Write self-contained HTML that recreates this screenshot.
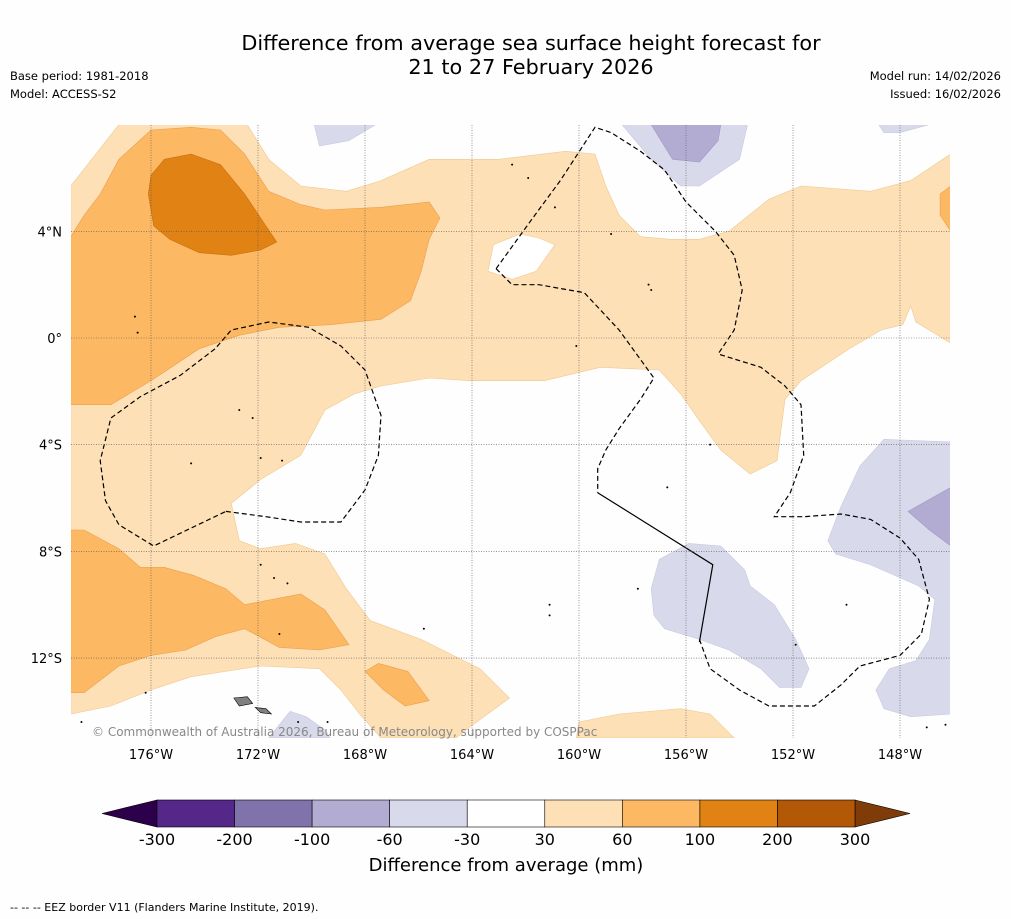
<!DOCTYPE html>
<html><head><meta charset="utf-8"><style>
html,body{margin:0;padding:0;background:#fefefe;}
svg{display:block;font-family:"DejaVu Sans","Liberation Sans",sans-serif;}
</style></head><body>
<svg id="chart" width="1011" height="919" viewBox="0 0 1011 919" xmlns="http://www.w3.org/2000/svg">
<rect width="1011" height="919" fill="#fefefe"/>
<text x="531" y="50" font-size="20.8" text-anchor="middle" fill="#000">Difference from average sea surface height forecast for</text>
<text x="531" y="74" font-size="20.8" text-anchor="middle" fill="#000">21 to 27 February 2026</text>
<text x="10" y="80" font-size="11.5">Base period: 1981-2018</text>
<text x="10" y="98" font-size="11.5">Model: ACCESS-S2</text>
<text x="1001" y="80" font-size="11.5" text-anchor="end">Model run: 14/02/2026</text>
<text x="1001" y="98" font-size="11.5" text-anchor="end">Issued: 16/02/2026</text>
<defs><clipPath id="mapclip"><rect x="71" y="125" width="879" height="613"/></clipPath></defs>
<g id="map" clip-path="url(#mapclip)"></g>
<g id="grid"></g>
<g id="axes"></g>
<text x="92" y="736" font-size="12" fill="#888">© Commonwealth of Australia 2026, Bureau of Meteorology, supported by COSPPac</text>
<g id="cbar"></g>
<text x="506" y="871" font-size="18" text-anchor="middle">Difference from average (mm)</text>
<text x="10" y="911" font-size="11">--  --  -- EEZ border V11 (Flanders Marine Institute, 2019).</text>
</svg>
<script>
const lonTicks = [-176,-172,-168,-164,-160,-156,-152,-148];
const latTicks = [4,0,-4,-8,-12];
const cbarLevels = ["-300","-200","-100","-60","-30","30","60","100","200","300"];
const cbarColors = ["#542788","#8073ac","#b2abd2","#d8daeb","#ffffff","#fee0b6","#fdb863","#e08214","#b35806"];
const cbarExtendLow = "#2d004b", cbarExtendHigh = "#7f3b08";

const lightOrange = [[-179,5.7],[-177.2,8],[-172.4,8],[-171.6,6.7],[-170.4,5.7],[-168.7,5.5],[-167.4,5.9],[-165.6,6.7],[-163,6.7],[-160.5,7.0],[-159.4,6.9],[-159,5.7],[-158.5,4.6],[-157.7,3.8],[-156.6,3.7],[-155.5,3.7],[-154.4,4.0],[-152.9,5.2],[-151.7,5.7],[-149.1,5.5],[-147.6,5.9],[-146.1,6.9],[-146.1,-0.2],[-147.4,0.6],[-147.6,1.2],[-147.9,0.5],[-148.7,0.3],[-149.9,-0.4],[-151.7,-1.6],[-152.3,-2.3],[-152.6,-4.6],[-153.6,-5.1],[-154.7,-4.2],[-155.5,-3.1],[-156.2,-2.1],[-157,-1.2],[-159.2,-1.1],[-161.3,-1.6],[-164.1,-1.6],[-165.6,-1.5],[-167.4,-1.8],[-168.4,-2.1],[-169.5,-2.7],[-170.4,-4.4],[-171.9,-5.3],[-173,-6.2],[-172.7,-7.6],[-171.9,-7.9],[-170.6,-7.7],[-169.5,-8.1],[-168.7,-9.4],[-167.8,-10.6],[-165.9,-11.3],[-163.7,-12.4],[-162.6,-13.5],[-164.1,-14.6],[-164.6,-15],[-167.4,-15],[-168.2,-14.1],[-168.9,-13.2],[-169.7,-12.4],[-171.9,-12.3],[-174.5,-12.7],[-176,-13.2],[-177.5,-13.8],[-179,-14.1]];
const whiteHole = [[-163.4,2.5],[-163.2,3.5],[-162.2,3.9],[-161.5,3.75],[-160.9,3.5],[-161.6,2.5],[-162.5,2.2]];
const lightOrangeBottom = [[-160.1,-15],[-160,-14.4],[-158.5,-14.1],[-156.2,-13.9],[-155.1,-14.1],[-154.2,-15]];
const orangeLeft = [[-179,3.8],[-178.5,4.6],[-177.9,5.4],[-177.2,6.7],[-176,7.8],[-174.5,7.9],[-173.4,7.8],[-172.5,6.9],[-171.6,5.5],[-170.4,5.0],[-169.5,4.8],[-167.4,4.9],[-165.6,5.1],[-165.2,4.5],[-165.6,3.7],[-165.9,2.5],[-166.3,1.4],[-167.4,0.7],[-169.3,0.5],[-171.2,0.4],[-172.7,0.1],[-174.2,-0.4],[-176,-1.6],[-177.5,-2.5],[-178.7,-2.5],[-179,-2.5]];
const darkOrange = [[-176.1,5.4],[-176,6.1],[-175.5,6.7],[-174.5,6.9],[-173.4,6.5],[-172.5,5.4],[-171.7,4.2],[-171.3,3.6],[-171.9,3.3],[-173,3.1],[-174.2,3.2],[-175.3,3.7],[-175.9,4.2]];
const orangeBottomLeft = [[-179,-7.2],[-178.5,-7.2],[-177.2,-7.9],[-176.4,-8.6],[-175.5,-8.6],[-174.4,-8.9],[-173.2,-9.4],[-172.5,-10],[-170.4,-9.6],[-169.5,-10.2],[-168.6,-11.5],[-169.7,-11.7],[-171.2,-11.6],[-172.5,-10.9],[-173.6,-11.2],[-174.7,-11.7],[-176,-11.9],[-177.2,-12.3],[-178.5,-13.3],[-179,-13.3]];
const orangeSmall = [[-168,-12.5],[-167.5,-12.2],[-166.4,-12.5],[-165.6,-13.6],[-166.5,-13.8],[-167.3,-13.2]];
const orangeRight = [[-146.5,5.4],[-146.1,5.7],[-146.1,4.0],[-146.5,4.6]];
const lavA = [[-169.9,8],[-167.6,8],[-168.6,7.4],[-169.7,7.2]];
const lavB = [[-158.4,8],[-153.7,8],[-154,6.7],[-155.5,5.7],[-156.2,5.7],[-157.3,6.7]];
const lavC = [[-148.8,8],[-146.9,8],[-148,7.7],[-148.6,7.7]];
const lavD = [[-146.1,-3.9],[-148.6,-3.8],[-149.5,-4.8],[-150.2,-6.3],[-150.7,-7.6],[-150.4,-8.1],[-149.1,-8.5],[-147.3,-9.3],[-146.7,-9.8],[-146.9,-11.3],[-147.4,-12.1],[-148.4,-12.4],[-148.9,-13.2],[-148.6,-13.9],[-147.6,-14.2],[-146.1,-14.1]];
const lavE = [[-157,-8.3],[-155.9,-7.7],[-154.7,-7.8],[-153.8,-8.7],[-153.6,-9.3],[-152.7,-10],[-151.9,-11.3],[-151.4,-12.4],[-151.7,-13.1],[-152.5,-13.1],[-153.2,-12.4],[-154.4,-11.7],[-155.5,-11.3],[-156.8,-10.9],[-157.2,-10.4],[-157.3,-9.4]];
const lavF = [[-171.6,-15],[-170.8,-14],[-170.2,-14.2],[-169.5,-14.7],[-169.3,-15]];
const purpleTop = [[-157.3,8],[-154.7,8],[-154.8,7.4],[-155.5,6.6],[-156.5,6.7]];
const purpleRight = [[-146.1,-5.6],[-147.7,-6.5],[-146.9,-7.2],[-146.1,-7.8]];
const eez1 = [[-173.2,-6.5],[-171.7,-6.7],[-170.4,-6.9],[-168.9,-6.9],[-168,-5.7],[-167.5,-4.4],[-167.4,-2.9],[-168,-1.2],[-168.9,-0.3],[-170.1,0.4],[-171.6,0.6],[-173,0.3],[-173.6,-0.4],[-174.9,-1.4],[-176.4,-2.2],[-177.5,-3.0],[-177.9,-4.6],[-177.7,-6.1],[-177.2,-7.0],[-175.9,-7.8],[-173.2,-6.5]];
const eez2 = [[-163.1,2.6],[-161.8,4.4],[-160.7,5.9],[-159.4,7.9],[-158.8,7.7],[-157.7,7.0],[-156.8,6.3],[-156,5.1],[-154.9,4.0],[-154.2,3.1],[-153.9,1.8],[-154.2,0.3],[-154.8,-0.6]];
const eez3 = [[-163.1,2.6],[-162.5,2.0],[-161.5,2.0],[-159.8,1.7],[-158.5,0.3],[-157.2,-1.5],[-157.7,-2.3],[-158.5,-3.4],[-159,-4.2],[-159.3,-4.9],[-159.3,-5.8]];
const eezSolid = [[-159.3,-5.8],[-155,-8.5],[-155.5,-11.4]];
const eez5 = [[-155.5,-11.3],[-155.1,-12.4],[-154,-13.2],[-152.9,-13.8],[-151.2,-13.8],[-150.2,-13],[-149.5,-12.3],[-148,-11.9],[-147.2,-11.1],[-146.9,-9.8],[-147.3,-8.3],[-148,-7.5],[-149.1,-6.8],[-150.2,-6.6],[-151.6,-6.7],[-152.7,-6.7],[-152.1,-5.8],[-151.6,-4.4],[-151.7,-2.5],[-152.3,-1.8],[-153.2,-1.1],[-154.8,-0.6]];
const islandA = [[-172.9,-13.5],[-172.4,-13.45],[-172.2,-13.7],[-172.7,-13.8]];
const islandB = [[-172.1,-13.85],[-171.7,-13.9],[-171.5,-14.1],[-171.9,-14.05]];
const islandDots = [[-172.7,-2.7],[-172.2,-3.0],[-174.5,-4.7],[-171.9,-4.5],[-171.1,-4.6],[-176.6,0.8],[-176.5,0.2],[-171.9,-8.5],[-171.4,-9.0],[-170.9,-9.2],[-171.2,-11.1],[-176.2,-13.3],[-178.6,-14.4],[-170.5,-14.4],[-169.4,-14.4],[-165.8,-10.9],[-161.1,-10.0],[-161.1,-10.4],[-160.1,-0.3],[-158.8,3.9],[-157.4,2.0],[-157.3,1.8],[-162.5,6.5],[-161.9,6.0],[-160.9,4.9],[-155.1,-4.0],[-156.7,-5.6],[-157.8,-9.4],[-151.9,-11.5],[-150.0,-10.0],[-147.0,-14.6],[-146.3,-14.5]];

const X = lon => 151 + (lon + 176) * 26.75;
const Y = lat => 338 - lat * 26.67;
const NS = "http://www.w3.org/2000/svg";
const map = document.getElementById('map');
const grid = document.getElementById('grid');
const axes = document.getElementById('axes');
const cbar = document.getElementById('cbar');

function pathD(pts, close) {
  return pts.map((p,i)=>(i?'L':'M')+X(p[0]).toFixed(1)+','+Y(p[1]).toFixed(1)).join(' ') + (close?' Z':'');
}
function addPoly(pts, fill, stroke, name) {
  const el = document.createElementNS(NS,'path');
  el.setAttribute('d', pathD(pts,true));
  el.setAttribute('fill', fill);
  el.setAttribute('stroke', stroke);
  el.setAttribute('stroke-width', '0.6');
  
  
  map.appendChild(el);
}
function addLine(pts, dashed, name) {
  const el = document.createElementNS(NS,'path');
  el.setAttribute('d', pathD(pts,false));
  el.setAttribute('fill', 'none');
  el.setAttribute('stroke', '#000');
  el.setAttribute('stroke-width', '1.2');
  if (dashed) el.setAttribute('stroke-dasharray', '5,3');
  
  
  map.appendChild(el);
}
addPoly(lightOrange, cbarColors[5], '#f0c890', 'contour-30-60');
addPoly(whiteHole, '#ffffff', '#f0c890', 'contour-hole');
addPoly(lightOrangeBottom, cbarColors[5], '#f0c890', 'contour-30-60-south');
addPoly(orangeLeft, cbarColors[6], '#e8a050', 'contour-60-100');
addPoly(darkOrange, cbarColors[7], '#c87010', 'contour-100-200');
addPoly(orangeBottomLeft, cbarColors[6], '#e8a050', 'contour-60-100-southwest');
addPoly(orangeSmall, cbarColors[6], '#e8a050', 'contour-60-100-small');
addPoly(orangeRight, cbarColors[6], '#e8a050', 'contour-60-100-east');
[lavA,lavB,lavC,lavD,lavE,lavF].forEach(p=>addPoly(p, cbarColors[3], '#c8c8e0', 'contour-minus30-minus60'));
[purpleTop,purpleRight].forEach(p=>addPoly(p, cbarColors[2], '#a098c8', 'contour-minus60-minus100'));
addPoly(islandA, '#808080', '#000', 'island');
addPoly(islandB, '#808080', '#000', 'island');
islandDots.forEach(p=>{
  const c = document.createElementNS(NS,'circle');
  c.setAttribute('cx', X(p[0])); c.setAttribute('cy', Y(p[1])); c.setAttribute('r', '1');
  c.setAttribute('fill', '#000');
  
  
  map.appendChild(c);
});
addLine(eez1, true, 'eez-border-kiribati-west');
addLine(eez2, true, 'eez-border-line-islands-north');
addLine(eez3, true, 'eez-border-line-islands-west');
addLine(eezSolid, false, 'eez-border-solid');
addLine(eez5, true, 'eez-border-east');

lonTicks.forEach(lon=>{
  const l = document.createElementNS(NS,'line');
  l.setAttribute('x1', X(lon)); l.setAttribute('x2', X(lon));
  l.setAttribute('y1', 125); l.setAttribute('y2', 738);
  l.setAttribute('stroke', '#555'); l.setAttribute('stroke-width', '0.6'); l.setAttribute('stroke-dasharray', '1,1.5');
  
  
  grid.appendChild(l);
  const t = document.createElementNS(NS,'text');
  t.setAttribute('x', X(lon)); t.setAttribute('y', 759);
  t.setAttribute('font-size', '13'); t.setAttribute('text-anchor', 'middle');
  t.textContent = Math.abs(lon) + '°W';
  
  
  axes.appendChild(t);
});
latTicks.forEach(lat=>{
  const l = document.createElementNS(NS,'line');
  l.setAttribute('x1', 71); l.setAttribute('x2', 950);
  l.setAttribute('y1', Y(lat)); l.setAttribute('y2', Y(lat));
  l.setAttribute('stroke', '#555'); l.setAttribute('stroke-width', '0.6'); l.setAttribute('stroke-dasharray', '1,1.5');
  
  
  grid.appendChild(l);
  const t = document.createElementNS(NS,'text');
  t.setAttribute('x', 62); t.setAttribute('y', Y(lat)+5);
  t.setAttribute('font-size', '13'); t.setAttribute('text-anchor', 'end');
  t.textContent = lat===0 ? '0°' : Math.abs(lat) + (lat>0?'°N':'°S');
  
  
  axes.appendChild(t);
});

const cbX0 = 157, cbX1 = 855, cbY0 = 800, cbY1 = 827;
const cbW = (cbX1 - cbX0) / cbarColors.length;
const lo = document.createElementNS(NS,'polygon');
lo.setAttribute('points', `${cbX0},${cbY0} ${102},${(cbY0+cbY1)/2} ${cbX0},${cbY1}`);
lo.setAttribute('fill', cbarExtendLow); lo.setAttribute('stroke', '#000'); lo.setAttribute('stroke-width', '0.6');


cbar.appendChild(lo);
const hi = document.createElementNS(NS,'polygon');
hi.setAttribute('points', `${cbX1},${cbY0} ${910},${(cbY0+cbY1)/2} ${cbX1},${cbY1}`);
hi.setAttribute('fill', cbarExtendHigh); hi.setAttribute('stroke', '#000'); hi.setAttribute('stroke-width', '0.6');


cbar.appendChild(hi);
cbarColors.forEach((c,i)=>{
  const r = document.createElementNS(NS,'rect');
  r.setAttribute('x', cbX0 + i*cbW); r.setAttribute('y', cbY0);
  r.setAttribute('width', cbW); r.setAttribute('height', cbY1-cbY0);
  r.setAttribute('fill', c); r.setAttribute('stroke', '#000'); r.setAttribute('stroke-width', '0.6');
  
  
  cbar.appendChild(r);
});
cbarLevels.forEach((lab,i)=>{
  const t = document.createElementNS(NS,'text');
  t.setAttribute('x', cbX0 + i*cbW); t.setAttribute('y', 845);
  t.setAttribute('font-size', '16'); t.setAttribute('text-anchor', 'middle');
  t.textContent = lab;
  
  
  cbar.appendChild(t);
});
</script>
</body></html>
